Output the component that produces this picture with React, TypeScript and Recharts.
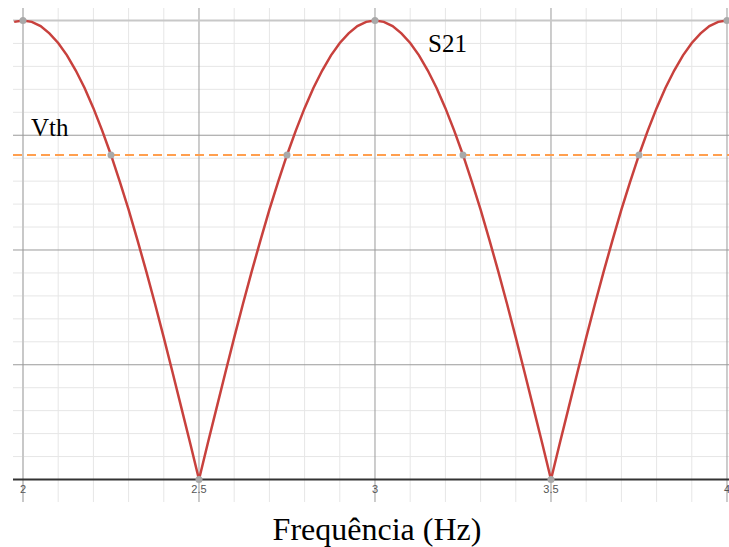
import React from "react";
import { ComposedChart, Line, XAxis, YAxis, ReferenceLine, ReferenceDot } from "recharts";

// frequency samples (Hz) and S21 magnitude
const freq = [
  1.975, 2, 2.025, 2.05, 2.075, 2.1, 2.125, 2.15, 2.175, 2.2, 2.225, 2.25, 2.275, 2.3, 2.325, 2.35,
  2.375, 2.4, 2.425, 2.45, 2.475, 2.5, 2.525, 2.55, 2.575, 2.6, 2.625, 2.65, 2.675, 2.7, 2.725,
  2.75, 2.775, 2.8, 2.825, 2.85, 2.875, 2.9, 2.925, 2.95, 2.975, 3, 3.025, 3.05, 3.075, 3.1, 3.125,
  3.15, 3.175, 3.2, 3.225, 3.25, 3.275, 3.3, 3.325, 3.35, 3.375, 3.4, 3.425, 3.45, 3.475, 3.5,
  3.525, 3.55, 3.575, 3.6, 3.625, 3.65, 3.675, 3.7, 3.725, 3.75, 3.775, 3.8, 3.825, 3.85, 3.875,
  3.9, 3.925, 3.95, 3.975, 4,
];
const s21 = [
  0.997, 1, 0.997, 0.988, 0.972, 0.951, 0.924, 0.891, 0.853, 0.809, 0.76, 0.707, 0.649, 0.588, 0.522, 0.454,
  0.383, 0.309, 0.233, 0.156, 0.079, 0, 0.079, 0.156, 0.233, 0.309, 0.383, 0.454, 0.522, 0.588, 0.649,
  0.707, 0.76, 0.809, 0.853, 0.891, 0.924, 0.951, 0.972, 0.988, 0.997, 1, 0.997, 0.988, 0.972, 0.951, 0.924,
  0.891, 0.853, 0.809, 0.76, 0.707, 0.649, 0.588, 0.522, 0.454, 0.383, 0.309, 0.233, 0.156, 0.079, 0,
  0.079, 0.156, 0.233, 0.309, 0.383, 0.454, 0.522, 0.588, 0.649, 0.707, 0.76, 0.809, 0.853, 0.891, 0.924,
  0.951, 0.972, 0.988, 0.997, 1,
];

const vth = 0.707;

// gray points: peaks, nulls and crossings with Vth
const markerF = [2, 3, 4, 2.5, 3.5, 2.25, 2.75, 3.25, 3.75];
const markerV = [1, 1, 1, 0, 0, 0.707, 0.707, 0.707, 0.707];

const xMajor = [2, 2.5, 3, 3.5, 4];
const xMinor = [2.1, 2.2, 2.3, 2.4, 2.6, 2.7, 2.8, 2.9, 3.1, 3.2, 3.3, 3.4, 3.6, 3.7, 3.8, 3.9];
const yMajor = [0.25, 0.5, 0.75, 1];
const yMinor = [0.05, 0.1, 0.15, 0.2, 0.3, 0.35, 0.4, 0.45, 0.55, 0.6, 0.65, 0.7, 0.8, 0.85, 0.9, 0.95];
const xTickLabels = ["2", "2.5", "3", "3.5", "4"];

const data = freq.map((f, i) => ({ f, s21: s21[i] }));

const serif = '"Liberation Serif", "Times New Roman", serif';

// tick label drawn under the axis line, centred on the major grid line
const tickLabel = (text: string) => (props: any) => {
  const vb = props.viewBox || {};
  return (
    <text x={vb.x} y={vb.y + vb.height - 9} textAnchor="middle" fontSize={11}
      fontFamily='"Liberation Sans", Arial, sans-serif' fill="#555">
      {text}
    </text>
  );
};

export default function App() {
  return (
    <div style={{ position: "absolute", left: 0, top: 0, width: 729, height: 547, background: "#fff" }}>
      <ComposedChart width={729} height={547} data={data}
        margin={{ top: 8, right: 0, left: 13, bottom: 45 }}>
        <XAxis dataKey="f" type="number" domain={[1.9716, 4.0057]} allowDataOverflow hide />
        <YAxis type="number" domain={[-0.049, 1.0272]} allowDataOverflow hide />

        {/* minor grid */}
        {xMinor.map((v) => <ReferenceLine key={"xm" + v} x={v} stroke="#e6e6e6" strokeWidth={1} />)}
        {yMinor.map((v) => <ReferenceLine key={"ym" + v} y={v} stroke="#e6e6e6" strokeWidth={1} />)}
        {/* major grid, with the frequency tick labels just under the axis */}
        {xMajor.map((v, i) => (
          <ReferenceLine key={"xM" + v} x={v} stroke={v === 2 ? "#c8c8c8" : "#9a9a9a"} strokeWidth={v === 2 ? 2 : 1}
            label={tickLabel(xTickLabels[i])} />
        ))}
        {yMajor.map((v) => <ReferenceLine key={"yM" + v} y={v} stroke={v === 1 ? "#c8c8c8" : "#9a9a9a"} strokeWidth={v === 1 ? 2 : 1} />)}
        <ReferenceLine y={0} stroke="#333" strokeWidth={2} />

        <ReferenceLine y={vth} stroke="#ff9f4f" strokeWidth={2} strokeDasharray="9 5" />

        <Line dataKey="s21" type="linear" stroke="#c8413d" strokeWidth={2.5} dot={false}
          isAnimationActive={false} />

        {markerF.map((f, i) => (
          <ReferenceDot key={"d" + i} x={f} y={markerV[i]} r={3.5} fill="#a9a9a9" stroke="none" />
        ))}
      </ComposedChart>

      <div style={{ position: "absolute", left: 31, top: 115, fontFamily: serif, fontSize: 25, lineHeight: "25px", color: "#000" }}>Vth</div>
      <div style={{ position: "absolute", left: 428, top: 31, fontFamily: serif, fontSize: 25, lineHeight: "25px", color: "#000" }}>S21</div>
      <div style={{ position: "absolute", left: 0, width: 754, top: 513, textAlign: "center", fontFamily: serif, fontSize: 32, lineHeight: "32px", color: "#000" }}>Frequência (Hz)</div>
    </div>
  );
}
